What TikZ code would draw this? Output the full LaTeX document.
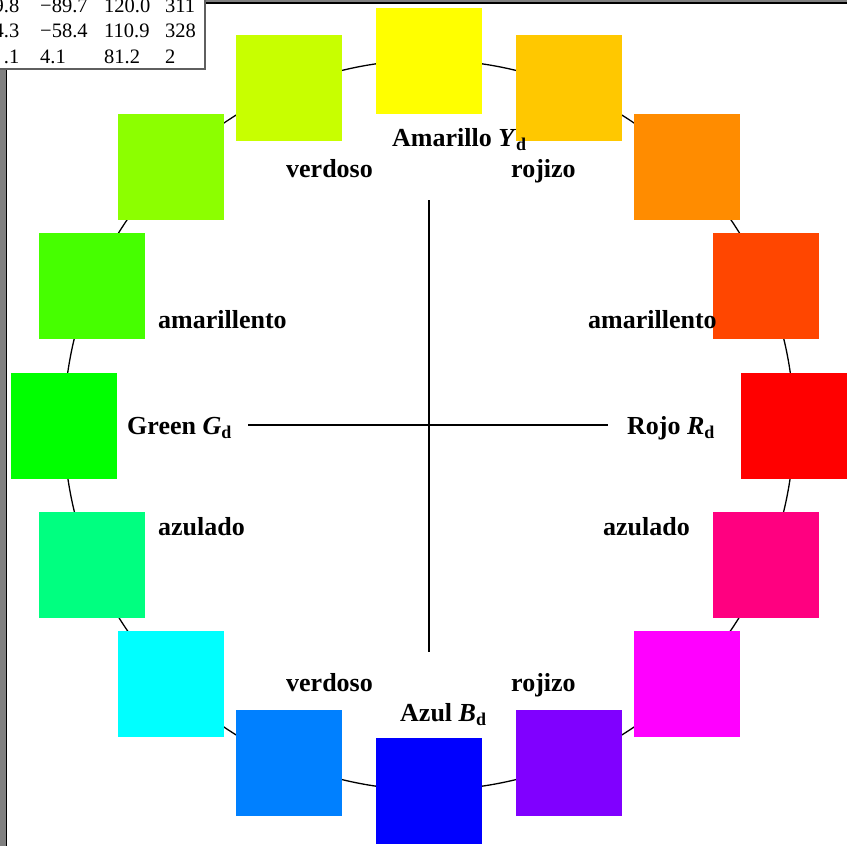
\documentclass[tikz,border=0pt]{standalone}
\usepackage{fontspec}
\setmainfont{Liberation Serif}
\newcommand\dsub{\raisebox{-4pt}{\fontsize{18}{20}\selectfont d}}
\begin{document}
\begin{tikzpicture}[x=1pt,y=-1pt,
  lbl/.style={inner sep=0pt, anchor=base west, font=\fontsize{26}{30}\selectfont\bfseries},
  num/.style={inner sep=0pt, anchor=base west, font=\fontsize{20.5}{24}\selectfont},
  numr/.style={num, anchor=base east},
  sq/.style={minimum size=106pt, inner sep=0pt, draw=none, rectangle},
  axis/.style={line width=1.4pt, black},
  framegray/.style={fill={rgb,255:red,128;green,128;blue,128}},
  shadow/.style={draw={rgb,255:red,95;green,95;blue,95}, line width=2pt}]
\useasboundingbox (0,0) rectangle (847,846);
\clip (0,0) rectangle (847,846);
\fill[white] (0,0) rectangle (847,846);
% window frame
\path[framegray] (0,0) rectangle (5.5,846);
\fill[black] (5.5,0) rectangle (7,846);
\path[framegray] (0,0) rectangle (847,2.2);
\fill[black] (5.5,2.2) rectangle (847,3.7);
% ring
\coordinate (c) at (429,425);
\draw[line width=1.3pt] (c) circle[radius=365pt];
% squares
\foreach \i/\col in {0/FFFF00,1/FFC800,2/FF8C00,3/FF4600,4/FF0000,5/FF0080,6/FF00FF,7/8000FF,8/0000FF,9/0080FF,10/00FFFF,11/00FF80,12/00FF00,13/46FF00,14/8CFF00,15/C8FF00}{
  \definecolor{sqc}{HTML}{\col}
  \node[sq, fill=sqc] (s\i) at ({429+365*sin(\i*22.5)}, {425.5-365*cos(\i*22.5)}) {};
}
% axes
\coordinate (hl) at (248,425);
\coordinate (hr) at (608,425);
\coordinate (vt) at (429,200);
\coordinate (vb) at (429,652);
\draw[axis] (hl) -- (hr);
\draw[axis] (vt) -- (vb);
% labels
\node[lbl] (yd) at (392,146) {Amarillo \textit{Y}\dsub};
\node[lbl] (vt1) at (286,177) {verdoso};
\node[lbl] (rt1) at (511,177) {rojizo};
\node[lbl] (al) at (158,328) {amarillento};
\node[lbl] (ar) at (588,328) {amarillento};
\node[lbl] (gd) at (127,434) {Green \textit{G}\dsub};
\node[lbl] (rd) at (627,434) {Rojo \textit{R}\dsub};
\node[lbl] (zl) at (158,535) {azulado};
\node[lbl] (zr) at (603,535) {azulado};
\node[lbl] (vb1) at (286,691) {verdoso};
\node[lbl] (rb1) at (511,691) {rojizo};
\node[lbl] (bd) at (400,721) {Azul \textit{B}\dsub};
% table
\fill[white] (-5,-5) rectangle (205,69);
\draw[shadow] (205,-2) -- (205,69) -- (-2,69);
\node[numr] (t11) at (19.5,12) {9.8};
\node[num] (t12) at (40,12) {−89.7};
\node[num] (t13) at (104,12) {120.0};
\node[num] (t14) at (165,12) {311};
\node[numr] (t21) at (19.5,37.5) {4.3};
\node[num] (t22) at (40,37.5) {−58.4};
\node[num] (t23) at (104,37.5) {110.9};
\node[num] (t24) at (165,37.5) {328};
\node[numr] (t31) at (19.5,63) {.1};
\node[num] (t32) at (40,63) {4.1};
\node[num] (t33) at (104,63) {81.2};
\node[num] (t34) at (165,63) {2};
\end{tikzpicture}
\end{document}
